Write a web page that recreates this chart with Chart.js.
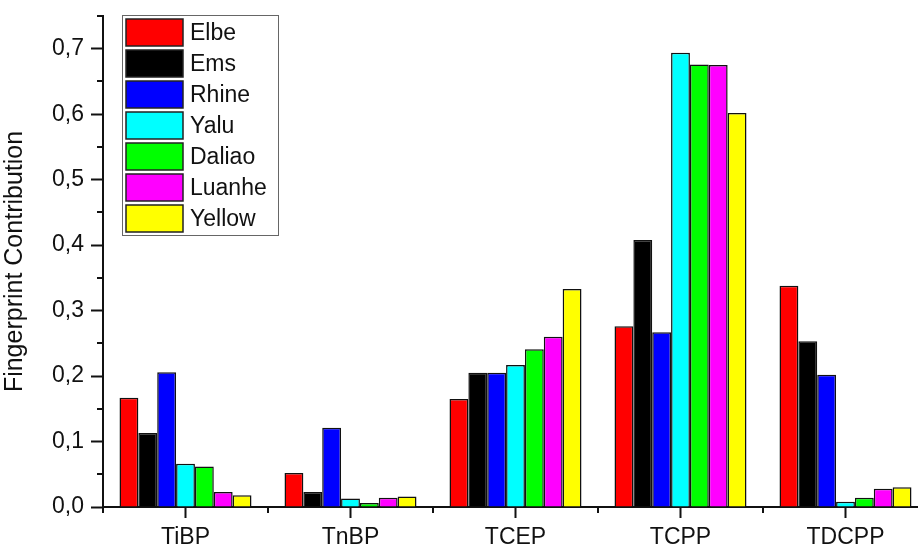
<!DOCTYPE html>
<html>
<head>
<meta charset="utf-8">
<script src="https://cdn.jsdelivr.net/npm/chart.js@4/dist/chart.umd.min.js"></script>
<style>
  html, body { margin: 0; padding: 0; background: #fff; overflow: hidden; }
  #wrap { width: 918px; height: 546px; overflow: hidden; }
  #box { width: 928px; height: 546px; position: relative; }
</style>
</head>
<body>
<div id="wrap"><div id="box"><canvas id="fpChart"></canvas></div></div>
<script>
// categories and series
const compounds = ['TiBP', 'TnBP', 'TCEP', 'TCPP', 'TDCPP'];
const rivers = ['Elbe', 'Ems', 'Rhine', 'Yalu', 'Daliao', 'Luanhe', 'Yellow'];
const riverColors = ['#ff0000', '#000000', '#0000ff', '#00ffff', '#00ff00', '#ff00ff', '#ffff00'];

const elbe   = [0.167, 0.052, 0.165, 0.276, 0.338];
const ems    = [0.113, 0.023, 0.205, 0.408, 0.253];
const rhine  = [0.206, 0.121, 0.205, 0.267, 0.202];
const yalu   = [0.066, 0.013, 0.217, 0.694, 0.008];
const daliao = [0.062, 0.006, 0.241, 0.676, 0.014];
const luanhe = [0.023, 0.014, 0.260, 0.675, 0.028];
const yellow = [0.018, 0.016, 0.333, 0.602, 0.030];
const seriesValues = [elbe, ems, rhine, yalu, daliao, luanhe, yellow];

const yTicks = [0, 0.1, 0.2, 0.3, 0.4, 0.5, 0.6, 0.7];

const FONT = "'Liberation Sans', Arial, sans-serif";

// minor ticks + legend box drawn on top
const extras = {
  id: 'extras',
  afterDraw(chart) {
    const ctx = chart.ctx;
    const x = chart.scales.x, y = chart.scales.y;
    const area = chart.chartArea;
    ctx.save();
    ctx.strokeStyle = '#111';
    ctx.lineWidth = 2;
    // y minor ticks
    for (let v = 0.05; v < 0.76; v += 0.1) {
      const py = Math.round(y.getPixelForValue(v));
      ctx.beginPath();
      ctx.moveTo(area.left, py);
      ctx.lineTo(area.left - 6, py);
      ctx.stroke();
    }
    // x minor ticks between groups
    const step = x.getPixelForValue(1) - x.getPixelForValue(0);
    for (let i = 0; i < compounds.length; i++) {
      const px = Math.round(x.getPixelForValue(i) - step / 2);
      ctx.beginPath();
      ctx.moveTo(px, area.bottom);
      ctx.lineTo(px, area.bottom + 6);
      ctx.stroke();
    }
    // legend
    const lx = 122, ly = 15, rowH = 31.1;
    ctx.lineWidth = 1;
    ctx.strokeStyle = '#666';
    ctx.fillStyle = '#fff';
    ctx.fillRect(lx, ly, 156, 220);
    ctx.strokeRect(lx + 0.5, ly + 0.5, 156, 220);
    ctx.font = '23px ' + FONT;
    ctx.textBaseline = 'middle';
    chart.data.datasets.forEach((ds, i) => {
      const top = Math.round(ly + 3.5 + i * rowH);
      ctx.fillStyle = ds.backgroundColor;
      ctx.fillRect(lx + 4, top, 57, 27);
      ctx.strokeStyle = '#222';
      ctx.lineWidth = 1.5;
      ctx.strokeRect(lx + 4, top, 57, 27);
      ctx.fillStyle = '#111';
      ctx.fillText(ds.label, lx + 68, top + 15);
    });
    ctx.restore();
  }
};

new Chart(document.getElementById('fpChart'), {
  type: 'bar',
  data: {
    labels: compounds,
    datasets: rivers.map((name, i) => ({
      label: name,
      data: seriesValues[i],
      backgroundColor: riverColors[i],
      borderColor: '#111',
      borderWidth: 1.5,
      categoryPercentage: 0.8,
      barPercentage: 1.0
    }))
  },
  options: {
    responsive: true,
    maintainAspectRatio: false,
    animation: false,
    layout: { padding: { top: 16, left: 0, right: 0, bottom: 0 } },
    plugins: { legend: { display: false }, tooltip: { enabled: false } },
    scales: {
      x: {
        grid: { display: true, drawOnChartArea: false, offset: false, tickLength: 11, tickWidth: 2, tickColor: '#111' },
        border: { display: true, color: '#111', width: 2 },
        ticks: { color: '#111', font: { family: FONT, size: 23 }, padding: 6, maxRotation: 0 },
        afterFit(s) { s.height = 39; s.paddingLeft = 0; s.paddingRight = 0; }
      },
      y: {
        min: 0,
        max: 0.75,
        grid: { display: true, drawOnChartArea: false, tickLength: 12, tickWidth: 2, tickColor: '#111' },
        border: { display: true, color: '#111', width: 2 },
        afterBuildTicks(s) { s.ticks = yTicks.map(v => ({ value: v })); },
        ticks: {
          color: '#111',
          font: { family: FONT, size: 23 },
          padding: 7,
          callback: v => v.toFixed(1).replace('.', ',')
        },
        title: {
          display: true,
          text: 'Fingerprint Contribution',
          color: '#111',
          font: { family: FONT, size: 25 },
          padding: { top: 0, bottom: 0 }
        },
        afterFit(s) { s.width = 103; s.paddingTop = 0; s.paddingBottom = 0; }
      }
    }
  },
  plugins: [extras]
});
</script>
</body>
</html>
